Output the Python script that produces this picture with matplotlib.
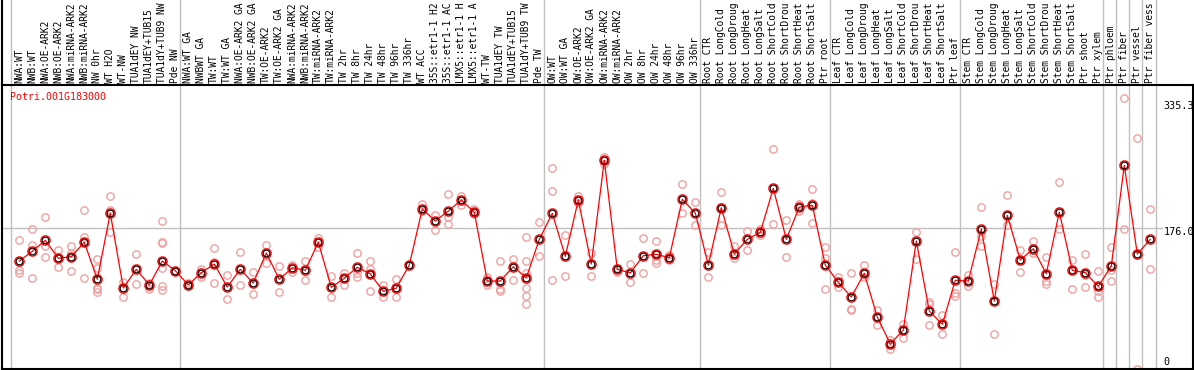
import matplotlib
matplotlib.use("Agg")
import matplotlib.pyplot as plt
import matplotlib.transforms as mtransforms

# ---------------- data ----------------
gene = "Potri.001G183000"

labels = [
    # group 1
    "NWA:WT", "NWB:WT", "NWA:OE-ARK2", "NWB:OE-ARK2", "NWA:miRNA-ARK2", "NWB:miRNA-ARK2",
    "NW 0hr", "WT H2O", "WT-NW", "TUA1dEY NW", "TUA1dEY+TUB15", "TUA1dY+TUB9 NW", "Pde NW",
    # group 2
    "NWA:WT GA", "NWBWT GA", "TW:WT", "TW:WT GA", "NWA:OE-ARK2 GA", "NWB:OE-ARK2 GA",
    "TW:OE-ARK2", "TW:OE-ARK2 GA", "NWA:miRNA-ARK2", "NWB:miRNA-ARK2", "TW:miRNA-ARK2",
    "TW:miRNA-ARK2", "TW 2hr", "TW 8hr", "TW 24hr", "TW 48hr", "TW 96hr", "TW 336hr", "WT ACC",
    "35S::etr1-1 H2", "35S::etr1-1 AC", "LMX5::etr1-1 H", "LMX5::etr1-1 A", "WT-TW",
    "TUA1dEY TW", "TUA1dEY+TUB15", "TUA1dY+TUB9 TW", "Pde TW",
    # group 3
    "OW:WT", "OW:WT GA", "OW:OE-ARK2", "OW:OE-ARK2 GA", "OW:miRNA-ARK2", "OW:miRNA-ARK2",
    "OW 2hr", "OW 8hr", "OW 24hr", "OW 48hr", "OW 96hr", "OW 336hr",
    # group 4
    "Root CTR", "Root LongCold", "Root LongDroug", "Root LongHeat", "Root LongSalt",
    "Root ShortCold", "Root ShortDrou", "Root ShortHeat", "Root ShortSalt", "Ptr root",
    # group 5
    "Leaf CTR", "Leaf LongCold", "Leaf LongDroug", "Leaf LongHeat", "Leaf LongSalt",
    "Leaf ShortCold", "Leaf ShortDrou", "Leaf ShortHeat", "Leaf ShortSalt", "Ptr leaf",
    # group 6
    "Stem CTR", "Stem LongCold", "Stem LongDroug", "Stem LongHeat", "Stem LongSalt",
    "Stem ShortCold", "Stem ShortDrou", "Stem ShortHeat", "Stem ShortSalt", "Ptr shoot",
    "Ptr xylem",
    # singles
    "Ptr phloem", "Ptr fiber", "Ptr vessel", "Ptr fiber vess",
]

group_sizes = [13, 28, 12, 10, 10, 11, 1, 1, 1, 1]

means = [
    132.5, 145.3, 159.8, 136.1, 138.2, 157.2, 108.5, 195.7, 97.0, 121.6, 101.0, 132.5, 119.8,
    101.0, 117.2, 128.6, 98.3, 121.6, 103.6, 143.1, 108.5, 123.7, 120.3, 157.2, 97.9, 109.8,
    124.3, 115.4, 92.7, 96.8, 127.3, 201.0, 185.2, 198.4, 212.8, 196.6, 106.2, 106.2, 125.1,
    110.2, 161.1,
    195.3, 138.7, 212.8, 128.6, 265.1, 121.6, 116.8, 139.5, 141.4, 136.9, 213.8, 195.7,
    127.3, 202.7, 141.8, 161.1, 170.3, 228.2, 161.1, 203.6, 205.9, 127.3,
    104.5, 85.2, 116.3, 58.8, 23.3, 41.7, 158.9, 66.7, 49.2, 107.1,
    106.2, 174.7, 79.9, 192.7, 133.9, 148.7, 115.8, 197.1, 120.3, 117.2, 99.2,
    126.0, 258.5, 141.8, 161.1,
]

replicates = [
    [159.8, 120.7, 117.2], [174.4, 153.8, 109.9], [190.0, 152.9, 137.6], [146.7, 124.7],
    [152.1, 142.8, 119.0], [199.2, 164.2, 109.9], [134.9, 123.9, 97.6, 95.4, 92.3],
    [217.7, 199.2, 171.2], [104.6, 84.9], [141.5, 102.1], [104.2, 95.4],
    [185.2, 158.1, 155.9, 123.9, 99.3, 94.1], [119.8],
    [103.3, 99.7], [122.0, 111.9], [149.3, 131.8, 103.3], [113.7, 82.1], [144.1, 100.7],
    [117.6, 88.7], [153.8, 130.5], [125.7, 91.4], [127.5, 118.7], [132.3, 106.9],
    [162.6, 151.6], [112.8, 84.9], [116.7, 101.4], [143.2, 116.7, 111.0],
    [132.3, 122.2, 92.8], [100.7, 85.8], [109.1, 84.9], [127.3], [207.9, 198.7],
    [193.3, 173.6], [220.3, 190.6, 181.8], [218.1, 205.8], [201.1, 194.4], [111.6, 101.1],
    [132.3, 95.4, 92.8], [135.4, 106.9], [163.9, 132.3, 117.4, 97.6, 86.7, 75.7],
    [183.5, 138.7],
    [254.5, 224.6, 107.0], [166.5, 112.5], [218.1, 208.5], [142.8, 112.5], [270.0, 260.2],
    [123.7, 118.5], [128.5, 105.3], [162.6, 116.5], [158.7, 133.6, 130.5], [140.4, 133.8],
    [233.4, 195.3], [209.6, 179.4],
    [144.1, 111.6], [222.9, 204.0, 180.3], [152.1, 136.3], [171.6, 146.6], [174.2, 166.8],
    [279.6, 180.9], [186.6, 137.5], [207.5, 197.8], [227.2, 209.2, 182.0],
    [150.7, 136.3, 95.4],
    [111.6, 98.9], [116.5, 70.0, 68.6], [127.5, 112.1], [67.8, 48.1], [28.2, 17.1],
    [49.2, 30.8], [170.3, 134.9], [78.1, 75.5, 48.1], [61.0, 36.0], [144.1, 91.0, 87.1],
    [114.3, 99.0], [203.1, 165.8, 151.8], [102.1, 36.3], [219.0, 180.4], [146.6, 118.1],
    [158.9, 143.6], [137.5, 105.9, 102.8], [236.1, 174.2], [133.9, 96.2],
    [141.4, 114.3, 98.1], [119.0, 93.1, 84.9],
    [150.7, 120.5, 106.0], [346.7, 174.2], [294.1, -9.2], [201.3, 122.3],
]

ref_value = 176.0
axis_labels = ["335.3", "176.0", "0"]

# ---------------- layout (pixels) ----------------
W, H = 1194, 370
fig = plt.figure(figsize=(W / 100, H / 100), dpi=100)


def fx(px):
    return px / W


def fy(py):
    return 1 - py / H


ax_left, ax_right, ax_top, ax_bottom = 1.5, 1192.7, 85.0, 369.0
ax = fig.add_axes([fx(ax_left), fy(ax_bottom), fx(ax_right) - fx(ax_left),
                   fy(ax_top) - fy(ax_bottom)])
x0_px, dx_px = 19.3, 13.0
y0_px, dy_px = 361.7, 0.7597
ax.set_xlim((ax_left - x0_px) / dx_px, (ax_right - x0_px) / dx_px)
ax.set_ylim((y0_px - ax_bottom) / dy_px, (y0_px - ax_top) / dy_px)
ax.set_xticks([])
ax.set_yticks([])
for s in ax.spines.values():
    s.set_color("black")
    s.set_linewidth(1.5)
    s.set_zorder(10)

ax_h = ax_bottom - ax_top
top_frac = 1 + ax_top / ax_h
blend = mtransforms.blended_transform_factory(ax.transData, ax.transAxes)

# group separators
starts = []
acc = 0
for g in group_sizes:
    starts.append(acc)
    acc += g
sep_positions = [s - 0.62 for s in starts] + [acc - 0.6]
for sx in sep_positions:
    ax.plot([sx, sx], [0, top_frac], transform=blend, color="#c0c0c0", lw=1.0,
            clip_on=False, zorder=1)

# reference line at 176
ax.axhline(ref_value, xmin=0, xmax=(1162 - ax_left) / (ax_right - ax_left),
           color="#c0c0c0", lw=1.0, zorder=1)

# left border through label area
fig.add_artist(plt.Line2D([fx(1.5), fx(1.5)], [fy(ax_top), 1.0], color="black", lw=1.5))

# x positions
xs = list(range(len(labels)))

# replicates
for i, reps in enumerate(replicates):
    ax.plot([i] * len(reps), reps, linestyle="none", marker="o", ms=5.3, mfc="none",
            mec="#f0a0a0", mew=1.0, zorder=3, clip_on=True)

# mean line
ax.plot(xs, means, color="#ff0000", lw=0.9, zorder=4)
ax.plot(xs, means, linestyle="none", marker="o", ms=6.6, mfc="none", mec="#ff0000",
        mew=1.0, zorder=5)
ax.plot(xs, means, linestyle="none", marker="o", ms=4.8, mfc="none", mec="#000000",
        mew=0.8, zorder=6)

# sample labels
mono = "DejaVu Sans Mono"
label_y = 1 + (ax_top - 83.3) / ax_h
for i, lab in enumerate(labels):
    ax.text(i, label_y, lab, rotation=90, ha="center", va="bottom", fontsize=6.9,
            family=mono, transform=blend, clip_on=False)

# gene name
fig.text(fx(10), fy(96.5), gene, color="#ff0000", fontsize=7.1, family=mono,
         ha="left", va="center")

# value labels on right
for txt, py in zip(axis_labels, [106.3, 232.0, 362.3]):
    ax.text(fx(1163.5), fy(py), txt, transform=fig.transFigure, fontsize=7.3,
            family=mono, ha="left", va="center", zorder=2, clip_on=False)

fig.savefig("out.png", dpi=100)
